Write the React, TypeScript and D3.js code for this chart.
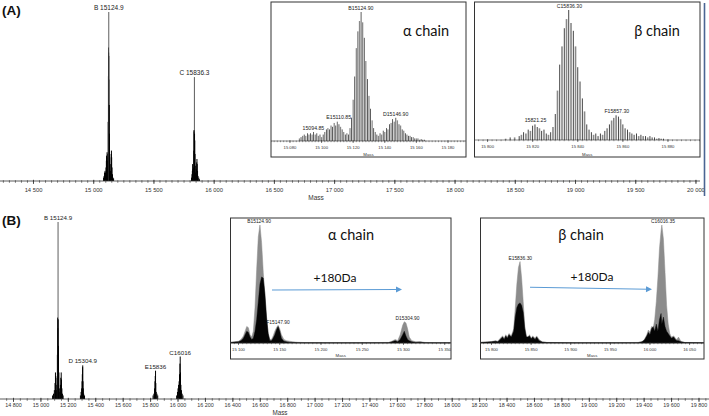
import React from "react";
import * as d3 from "d3";

const SANS = "'Liberation Sans', Arial, sans-serif";
const CAL = "Lato, 'Open Sans', sans-serif";

// ---------- Panel A : full spectrum ----------
const aMainTicks = [14500, 15000, 15500, 16000, 16500, 17000, 17500, 18000, 18500, 19000, 19500, 20000];
const aMainSticks: [number, number][] = [
  [15082, 0.02], [15086, 0.03], [15090, 0.05], [15094, 0.06], [15098, 0.05], [15102, 0.08], [15105, 0.12],
  [15107, 0.15], [15109, 0.14], [15111, 0.17], [15113, 0.12], [15116, 0.07], [15118, 0.16], [15120, 0.35],
  [15122, 0.62], [15123, 0.79], [15124, 0.76], [15125, 1.0], [15126, 0.74], [15127, 0.6], [15129, 0.45],
  [15131, 0.28], [15133, 0.14], [15136, 0.06], [15139, 0.06], [15142, 0.1], [15145, 0.16], [15147, 0.18],
  [15149, 0.14], [15152, 0.08], [15156, 0.04], [15160, 0.02], [15165, 0.015],
  [15812, 0.02], [15816, 0.04], [15819, 0.06], [15821, 0.1], [15823, 0.07], [15826, 0.04], [15829, 0.08],
  [15831, 0.18], [15833, 0.3], [15834, 0.3], [15835, 0.29], [15836, 0.615], [15837, 0.28], [15839, 0.24],
  [15841, 0.16], [15843, 0.09], [15846, 0.05], [15849, 0.04], [15852, 0.07], [15855, 0.11], [15857, 0.13],
  [15859, 0.1], [15862, 0.06], [15866, 0.03], [15872, 0.02], [15878, 0.01],
];
const aMainLabels = [
  { text: "B 15124.9", mass: 15124.9, rel: 1.0 },
  { text: "C 15836.3", mass: 15836.3, rel: 0.615 },
];

// ---------- Panel A : alpha chain inset ----------
const aAlphaTicks = [15080, 15100, 15120, 15140, 15160, 15180];
const aAlphaSticks: [number, number][] = [
  [15086, 0.02], [15087, 0.03], [15088, 0.04], [15089, 0.05], [15090, 0.04], [15091, 0.06], [15092, 0.05],
  [15093, 0.06], [15094, 0.05], [15095, 0.07], [15096, 0.05], [15097, 0.06], [15098, 0.04], [15099, 0.05],
  [15100, 0.03], [15101, 0.05], [15102, 0.07], [15103, 0.09], [15104, 0.1], [15105, 0.09], [15106, 0.12],
  [15107, 0.11], [15108, 0.14], [15109, 0.12], [15110, 0.15], [15111, 0.13], [15112, 0.11], [15113, 0.09],
  [15114, 0.07], [15115, 0.05], [15116, 0.06], [15117, 0.05], [15118, 0.1], [15119, 0.18], [15120, 0.32],
  [15121, 0.5], [15122, 0.72], [15123, 0.85], [15124, 0.93], [15125, 1.0], [15126, 0.92], [15127, 0.8],
  [15128, 0.62], [15129, 0.48], [15130, 0.35], [15131, 0.25], [15132, 0.16], [15133, 0.1], [15134, 0.07],
  [15135, 0.05], [15136, 0.04], [15137, 0.06], [15138, 0.05], [15139, 0.08], [15140, 0.07], [15141, 0.1],
  [15142, 0.09], [15143, 0.13], [15144, 0.14], [15145, 0.17], [15146, 0.15], [15147, 0.18], [15148, 0.16],
  [15149, 0.13], [15150, 0.12], [15151, 0.09], [15152, 0.08], [15153, 0.06], [15154, 0.05], [15155, 0.04],
  [15156, 0.04], [15157, 0.03], [15158, 0.03], [15159, 0.02], [15160, 0.02], [15161, 0.02], [15162, 0.01],
  [15163, 0.015], [15164, 0.01], [15165, 0.01],
];
const aAlphaLabels = [
  { text: "B15124.90", mass: 15124.9, rel: 1.0 },
  { text: "E15110.85", mass: 15110.85, rel: 0.15 },
  { text: "15094.85", mass: 15094.85, rel: 0.07 },
  { text: "D15146.90", mass: 15146.9, rel: 0.18 },
];

// ---------- Panel A : beta chain inset ----------
const aBetaTicks = [15800, 15820, 15840, 15860, 15880];
const aBetaSticks: [number, number][] = [
  [15808, 0.01], [15810, 0.02], [15812, 0.02], [15814, 0.03], [15815, 0.04], [15816, 0.06], [15817, 0.05],
  [15818, 0.08], [15819, 0.07], [15820, 0.11], [15821, 0.12], [15822, 0.1], [15823, 0.09], [15824, 0.07],
  [15825, 0.08], [15826, 0.05], [15827, 0.04], [15828, 0.06], [15829, 0.1], [15830, 0.2], [15831, 0.38],
  [15832, 0.58], [15833, 0.72], [15834, 0.86], [15835, 0.93], [15836, 1.0], [15837, 0.9], [15838, 0.84],
  [15839, 0.72], [15840, 0.56], [15841, 0.45], [15842, 0.32], [15843, 0.22], [15844, 0.12], [15845, 0.08],
  [15846, 0.06], [15847, 0.04], [15848, 0.05], [15849, 0.03], [15850, 0.05], [15851, 0.04], [15852, 0.07],
  [15853, 0.09], [15854, 0.12], [15855, 0.15], [15856, 0.17], [15857, 0.19], [15858, 0.18], [15859, 0.16],
  [15860, 0.12], [15861, 0.09], [15862, 0.08], [15863, 0.06], [15864, 0.05], [15865, 0.04], [15866, 0.05],
  [15867, 0.03], [15868, 0.04], [15869, 0.03], [15870, 0.03], [15871, 0.02], [15872, 0.03], [15873, 0.02],
  [15874, 0.02], [15875, 0.01], [15876, 0.015], [15877, 0.01], [15878, 0.01],
];
const aBetaLabels = [
  { text: "C15836.30", mass: 15836.3, rel: 1.0 },
  { text: "15821.25", mass: 15821.25, rel: 0.12 },
  { text: "F15857.30", mass: 15857.3, rel: 0.19 },
];

// ---------- Panel B : full spectrum ----------
const bMainTicks = [14800, 15000, 15200, 15400, 15600, 15800, 16000, 16200, 16400, 16600, 16800, 17000, 17200,
  17400, 17600, 17800, 18000, 18200, 18400, 18600, 18800, 19000, 19200, 19400, 19600, 19800];
const bMainSticks: [number, number][] = [
  [15085, 0.02], [15092, 0.03], [15098, 0.05], [15103, 0.09], [15106, 0.15], [15108, 0.13], [15111, 0.08],
  [15115, 0.05], [15118, 0.12], [15120, 0.25], [15122, 0.46], [15123, 0.4], [15125, 1.0], [15126, 0.45],
  [15128, 0.3], [15131, 0.15], [15134, 0.06], [15138, 0.04], [15142, 0.08], [15145, 0.12], [15148, 0.15],
  [15150, 0.11], [15153, 0.06], [15157, 0.03], [15162, 0.02],
  [15288, 0.02], [15293, 0.04], [15297, 0.06], [15300, 0.1], [15302, 0.14], [15304, 0.18], [15305, 0.19],
  [15307, 0.1], [15309, 0.06], [15312, 0.03], [15318, 0.02],
  [15818, 0.02], [15824, 0.03], [15829, 0.06], [15832, 0.1], [15834, 0.13], [15836, 0.16], [15838, 0.09],
  [15841, 0.04], [15846, 0.03], [15852, 0.02],
  [15990, 0.02], [15996, 0.04], [16000, 0.06], [16004, 0.08], [16008, 0.1], [16011, 0.14], [16014, 0.2],
  [16016, 0.24], [16018, 0.15], [16021, 0.08], [16025, 0.05], [16030, 0.03], [16036, 0.02],
];
const bMainLabels = [
  { text: "B 15124.9", mass: 15124.9, rel: 1.0 },
  { text: "D 15304.9", mass: 15304.9, rel: 0.19 },
  { text: "E15836", mass: 15836, rel: 0.16 },
  { text: "C16016", mass: 16016, rel: 0.24 },
];

// ---------- Panel B : alpha chain inset (mass, grey profile, black profile) ----------
const bAlphaTicks = [15100, 15150, 15200, 15250, 15300, 15350];
const bAlphaProfile: [number, number, number][] = [
  [15090, 0.005, 0.005], [15095, 0.01, 0.008], [15100, 0.015, 0.01], [15103, 0.03, 0.02], [15106, 0.06, 0.04],
  [15108, 0.1, 0.07], [15110, 0.14, 0.1], [15112, 0.13, 0.09], [15114, 0.07, 0.05], [15116, 0.05, 0.03],
  [15118, 0.1, 0.04], [15120, 0.3, 0.1], [15122, 0.62, 0.2], [15124, 0.9, 0.35], [15126, 1.0, 0.5],
  [15128, 0.85, 0.56], [15130, 0.6, 0.55], [15132, 0.4, 0.42], [15134, 0.2, 0.22], [15136, 0.08, 0.08],
  [15138, 0.03, 0.02], [15140, 0.03, 0.02], [15142, 0.06, 0.04], [15144, 0.1, 0.07], [15146, 0.13, 0.11],
  [15148, 0.15, 0.14], [15150, 0.12, 0.1], [15152, 0.07, 0.04], [15155, 0.03, 0.015], [15158, 0.02, 0.01],
  [15162, 0.015, 0.005], [15166, 0.01, 0.004], [15172, 0.006, 0.003], [15180, 0.004, 0.002],
  [15200, 0.003, 0.002], [15250, 0.003, 0.002], [15282, 0.005, 0.003], [15286, 0.015, 0.01],
  [15290, 0.03, 0.02], [15293, 0.02, 0.01], [15296, 0.07, 0.03], [15299, 0.15, 0.07], [15301, 0.18, 0.1],
  [15303, 0.17, 0.06], [15305, 0.12, 0.03], [15307, 0.05, 0.02], [15310, 0.02, 0.01], [15315, 0.01, 0.005],
  [15320, 0.012, 0.006], [15326, 0.005, 0.003], [15340, 0.003, 0.002], [15357, 0.003, 0.002],
];
const bAlphaLabels = [
  { text: "B15124.90", mass: 15124.9, rel: 1.0 },
  { text: "F15147.90", mass: 15147.9, rel: 0.15 },
  { text: "D15304.90", mass: 15304.9, rel: 0.18 },
];

// ---------- Panel B : beta chain inset ----------
const bBetaTicks = [15800, 15850, 15900, 15950, 16000, 16050];
const bBetaProfile: [number, number, number][] = [
  [15786, 0.005, 0.005], [15795, 0.01, 0.008], [15800, 0.012, 0.01], [15805, 0.02, 0.015], [15808, 0.015, 0.01],
  [15811, 0.04, 0.03], [15814, 0.06, 0.05], [15816, 0.04, 0.03], [15818, 0.07, 0.06], [15820, 0.05, 0.04],
  [15822, 0.08, 0.07], [15825, 0.06, 0.05], [15828, 0.12, 0.1], [15830, 0.3, 0.22], [15832, 0.5, 0.3],
  [15834, 0.64, 0.33], [15836, 0.69, 0.34], [15838, 0.55, 0.32], [15840, 0.35, 0.26], [15842, 0.14, 0.12],
  [15844, 0.06, 0.05], [15846, 0.05, 0.05], [15848, 0.07, 0.06], [15850, 0.04, 0.035], [15852, 0.06, 0.05],
  [15855, 0.04, 0.03], [15857, 0.06, 0.05], [15860, 0.03, 0.02], [15864, 0.01, 0.008], [15870, 0.005, 0.004],
  [15900, 0.003, 0.002], [15950, 0.003, 0.002], [15985, 0.005, 0.003], [15990, 0.012, 0.01],
  [15993, 0.03, 0.025], [15996, 0.07, 0.06], [15998, 0.11, 0.09], [16000, 0.09, 0.07], [16002, 0.14, 0.12],
  [16004, 0.12, 0.14], [16006, 0.2, 0.1], [16008, 0.35, 0.16], [16010, 0.55, 0.1], [16012, 0.8, 0.2],
  [16014, 0.95, 0.25], [16015, 1.0, 0.16], [16017, 0.88, 0.22], [16019, 0.6, 0.14], [16021, 0.32, 0.1],
  [16023, 0.16, 0.08], [16025, 0.08, 0.06], [16027, 0.05, 0.04], [16030, 0.06, 0.05], [16032, 0.04, 0.03],
  [16034, 0.03, 0.02], [16036, 0.05, 0.02], [16039, 0.015, 0.01], [16044, 0.005, 0.004], [16068, 0.003, 0.002],
];
const bBetaLabels = [
  { text: "E15836.30", mass: 15836.3, rel: 0.69 },
  { text: "C16016.35", mass: 16016.35, rel: 1.0 },
];

const fmt = (n: number) => {
  const s = String(n);
  return s.slice(0, s.length - 3) + " " + s.slice(-3);
};

type Lin = d3.ScaleLinear<number, number>;

function Axis(props: {
  xs: Lin; y: number; x0: number; x1: number; major: number[]; minor: number[];
  fs: number; dy: number; majLen: number; minLen: number; sw: number;
}) {
  const { xs, y, x0, x1, major, minor, fs, dy, majLen, minLen, sw } = props;
  return (
    <g>
      <line x1={x0} x2={x1} y1={y} y2={y} stroke="#333" strokeWidth={sw} />
      {minor.map((m) => (
        <line key={"n" + m} x1={xs(m)} x2={xs(m)} y1={y - minLen * 0.4} y2={y + minLen} stroke="#333" strokeWidth={sw * 0.8} />
      ))}
      {major.map((m) => (
        <g key={"M" + m}>
          <line x1={xs(m)} x2={xs(m)} y1={y - majLen * 0.4} y2={y + majLen} stroke="#333" strokeWidth={sw} />
          <text x={xs(m)} y={y + dy} fontSize={fs} textAnchor="middle" fill="#333" fontFamily={SANS}>{fmt(m)}</text>
        </g>
      ))}
    </g>
  );
}

function PeakLabels(props: { xs: Lin; ys: Lin; labels: { text: string; mass: number; rel: number }[]; fs: number; gap: number }) {
  const { xs, ys, labels, fs, gap } = props;
  return (
    <g>
      {labels.map((l) => (
        <text key={l.text} x={xs(l.mass)} y={ys(l.rel) - gap} fontSize={fs} textAnchor="middle" fill="#222" fontFamily={SANS}>
          {l.text}
        </text>
      ))}
    </g>
  );
}

function StickInset(props: {
  id: string; fx: number; fy: number; fw: number; fh: number; domain: [number, number]; base: number; top: number;
  ticks: number[]; minorStep: number; sticks: [number, number][]; labels: { text: string; mass: number; rel: number }[];
  title: string; titleX: number; titleY: number; wg: number; wb: number;
}) {
  const p = props;
  const xs = d3.scaleLinear().domain(p.domain).range([p.fx, p.fx + p.fw]);
  const ys = d3.scaleLinear().domain([0, 1]).range([p.base, p.top]);
  const minor = d3.range(Math.ceil(p.domain[0] / p.minorStep) * p.minorStep, p.domain[1], p.minorStep);
  return (
    <g>
      <defs>
        <clipPath id={p.id}><rect x={p.fx} y={p.fy} width={p.fw} height={p.fh} /></clipPath>
      </defs>
      <rect x={p.fx} y={p.fy} width={p.fw} height={p.fh} fill="#fff" />
      <g clipPath={`url(#${p.id})`}>
        {p.sticks.map(([m, v], i) =>
          i % 2 === 0 ? (
            <rect key={i} x={xs(m) - p.wg / 2} y={ys(v)} width={p.wg} height={p.base - ys(v)} fill="#8a8a8a" />
          ) : null
        )}
        {p.sticks.map(([m, v], i) =>
          i % 2 === 1 ? (
            <rect key={i} x={xs(m) - p.wb / 2} y={ys(v)} width={p.wb} height={p.base - ys(v)} fill="#1a1a1a" />
          ) : null
        )}
        <Axis xs={xs} y={p.base} x0={p.fx} x1={p.fx + p.fw} major={p.ticks} minor={minor} fs={4.2} dy={7.5}
          majLen={2} minLen={1.2} sw={0.6} />
        <text x={p.fx + p.fw / 2} y={p.fy + p.fh - 0.8} fontSize={4.3} textAnchor="middle" fill="#333" fontFamily={SANS}>Mass</text>
        <PeakLabels xs={xs} ys={ys} labels={p.labels} fs={5.2} gap={2.2} />
      </g>
      <rect x={p.fx} y={p.fy} width={p.fw} height={p.fh} fill="none" stroke="#333" strokeWidth={1} />
      <text x={p.titleX} y={p.titleY} fontSize={14.5} fontFamily={CAL} fill="#111" textAnchor="middle">{p.title}</text>
    </g>
  );
}

function AreaInset(props: {
  id: string; fx: number; fy: number; fw: number; fh: number; domain: [number, number]; base: number; top: number;
  ticks: number[]; minorStep: number; profile: [number, number, number][]; labels: { text: string; mass: number; rel: number }[];
  title: string; titleX: number; titleY: number;
  arrow: [number, number, number, number]; shiftX: number; shiftY: number;
}) {
  const p = props;
  const xs = d3.scaleLinear().domain(p.domain).range([p.fx, p.fx + p.fw]);
  const ys = d3.scaleLinear().domain([0, 1]).range([p.base, p.top]);
  const minor = d3.range(Math.ceil(p.domain[0] / p.minorStep) * p.minorStep, p.domain[1], p.minorStep);
  const grey = d3.area<[number, number, number]>().x((d) => xs(d[0])).y0(p.base).y1((d) => ys(d[1]))(p.profile) || "";
  const black = d3.area<[number, number, number]>().x((d) => xs(d[0])).y0(p.base).y1((d) => ys(d[2]))(p.profile) || "";
  const [ax0, ay0, ax1, ay1] = p.arrow;
  const ang = Math.atan2(ay1 - ay0, ax1 - ax0);
  const hl = 6, hw = 3;
  const head = [
    [ax1, ay1],
    [ax1 - hl * Math.cos(ang) + hw * Math.sin(ang), ay1 - hl * Math.sin(ang) - hw * Math.cos(ang)],
    [ax1 - hl * Math.cos(ang) - hw * Math.sin(ang), ay1 - hl * Math.sin(ang) + hw * Math.cos(ang)],
  ].map((q) => q.join(",")).join(" ");
  return (
    <g>
      <defs>
        <clipPath id={p.id}><rect x={p.fx} y={p.fy} width={p.fw} height={p.fh} /></clipPath>
      </defs>
      <rect x={p.fx} y={p.fy} width={p.fw} height={p.fh} fill="#fff" />
      <g clipPath={`url(#${p.id})`}>
        <path d={grey} fill="#8c8c8c" stroke="#8c8c8c" strokeWidth={0.5} />
        <path d={black} fill="#050505" stroke="#050505" strokeWidth={0.4} />
        <Axis xs={xs} y={p.base} x0={p.fx} x1={p.fx + p.fw} major={p.ticks} minor={minor} fs={4.2} dy={7.5}
          majLen={2} minLen={1.2} sw={0.6} />
        <text x={p.fx + p.fw / 2} y={p.fy + p.fh - 2} fontSize={4.3} textAnchor="middle" fill="#333" fontFamily={SANS}>Mass</text>
        <PeakLabels xs={xs} ys={ys} labels={p.labels} fs={4.9} gap={1.8} />
      </g>
      <rect x={p.fx} y={p.fy} width={p.fw} height={p.fh} fill="none" stroke="#333" strokeWidth={1} />
      <text x={p.titleX} y={p.titleY} fontSize={14.5} fontFamily={CAL} fill="#111" textAnchor="middle">{p.title}</text>
      <text x={p.shiftX} y={p.shiftY} fontSize={12} fontFamily={CAL} fill="#111" textAnchor="middle">+180Da</text>
      <line x1={ax0} y1={ay0} x2={ax1 - 4 * Math.cos(ang)} y2={ay1 - 4 * Math.sin(ang)} stroke="#5b9bd5" strokeWidth={1.1} />
      <polygon points={head} fill="#5b9bd5" />
    </g>
  );
}

function Spectrum(props: {
  xs: Lin; ys: Lin; sticks: [number, number][]; labels: { text: string; mass: number; rel: number }[]; lfs: number;
}) {
  const { xs, ys, sticks, labels, lfs } = props;
  const base = ys(0);
  return (
    <g>
      {sticks.map(([m, v], i) => (
        <line key={i} x1={xs(m)} x2={xs(m)} y1={base} y2={ys(v)} stroke={v > 0.5 ? "#333" : "#000"} strokeWidth={v > 0.5 ? 0.8 : 1} />
      ))}
      <PeakLabels xs={xs} ys={ys} labels={labels} fs={lfs} gap={2} />
    </g>
  );
}

export default function App() {
  // Panel A main axes
  const axA = d3.scaleLinear().domain([14221.9, 20033.5]).range([0, 700]);
  const ayA = d3.scaleLinear().domain([0, 1]).range([181, 12]);
  const minorA = d3.range(14250, 20001, 50);
  // Panel B main axes
  const axB = d3.scaleLinear().domain([14701.5, 19873]).range([0, 709]);
  const ayB = d3.scaleLinear().domain([0, 1]).range([399, 222]);
  const minorB = d3.range(14750, 19873, 50);

  return (
    <svg width={709} height={416} viewBox="0 0 709 416"
      style={{ position: "absolute", left: 0, top: 0, background: "#fff" }} fontFamily={SANS}>
      <rect x={0} y={0} width={709} height={416} fill="#fff" />

      {/* ---------- Panel A ---------- */}
      <text x={2} y={14.5} fontSize={13.5} fontWeight="bold" fontFamily={SANS} fill="#111">(A)</text>
      <Spectrum xs={axA} ys={ayA} sticks={aMainSticks} labels={aMainLabels} lfs={6.5} />
      <Axis xs={axA} y={181} x0={0} x1={700} major={aMainTicks} minor={minorA} fs={5.8} dy={10.5}
        majLen={3} minLen={1.8} sw={0.8} />
      <text x={316} y={199.5} fontSize={6.5} textAnchor="middle" fill="#333" fontFamily={SANS}>Mass</text>
      <line x1={704.5} x2={704.5} y1={3} y2={196} stroke="#4a6593" strokeWidth={1.6} />

      <StickInset id="ca1" fx={271} fy={2} fw={195} fh={155} domain={[15068, 15191.4]} base={141} top={12}
        ticks={aAlphaTicks} minorStep={2} sticks={aAlphaSticks} labels={aAlphaLabels}
        title="α chain" titleX={426} titleY={35.5} wg={1.25} wb={0.7} />
      <StickInset id="cb1" fx={474.5} fy={2} fw={225.5} fh={155} domain={[15794.2, 15894.2]} base={140} top={10}
        ticks={aBetaTicks} minorStep={2} sticks={aBetaSticks} labels={aBetaLabels}
        title="β chain" titleX={657} titleY={35.5} wg={1.6} wb={0.8} />

      {/* ---------- Panel B ---------- */}
      <text x={2} y={224.5} fontSize={13.5} fontWeight="bold" fontFamily={SANS} fill="#111">(B)</text>
      <Spectrum xs={axB} ys={ayB} sticks={bMainSticks} labels={bMainLabels} lfs={6.2} />
      <Axis xs={axB} y={399} x0={0} x1={709} major={bMainTicks} minor={minorB} fs={5.4} dy={8}
        majLen={3} minLen={1.8} sw={0.8} />
      <text x={280} y={414.5} fontSize={6.3} textAnchor="middle" fill="#333" fontFamily={SANS}>Mass</text>

      <AreaInset id="ca2" fx={230.5} fy={218} fw={220.5} fh={141} domain={[15090.3, 15357.6]} base={343} top={225}
        ticks={bAlphaTicks} minorStep={5} profile={bAlphaProfile} labels={bAlphaLabels}
        title="α chain" titleX={351} titleY={239.5} arrow={[272, 290, 402, 289.5]} shiftX={335} shiftY={282} />
      <AreaInset id="cb2" fx={480.5} fy={218} fw={223.5} fh={141} domain={[15786.1, 16068.2]} base={343} top={225}
        ticks={bBetaTicks} minorStep={5} profile={bBetaProfile} labels={bBetaLabels}
        title="β chain" titleX={581} titleY={239.5} arrow={[530, 287.3, 652, 289.3]} shiftX={592} shiftY={281} />
    </svg>
  );
}
